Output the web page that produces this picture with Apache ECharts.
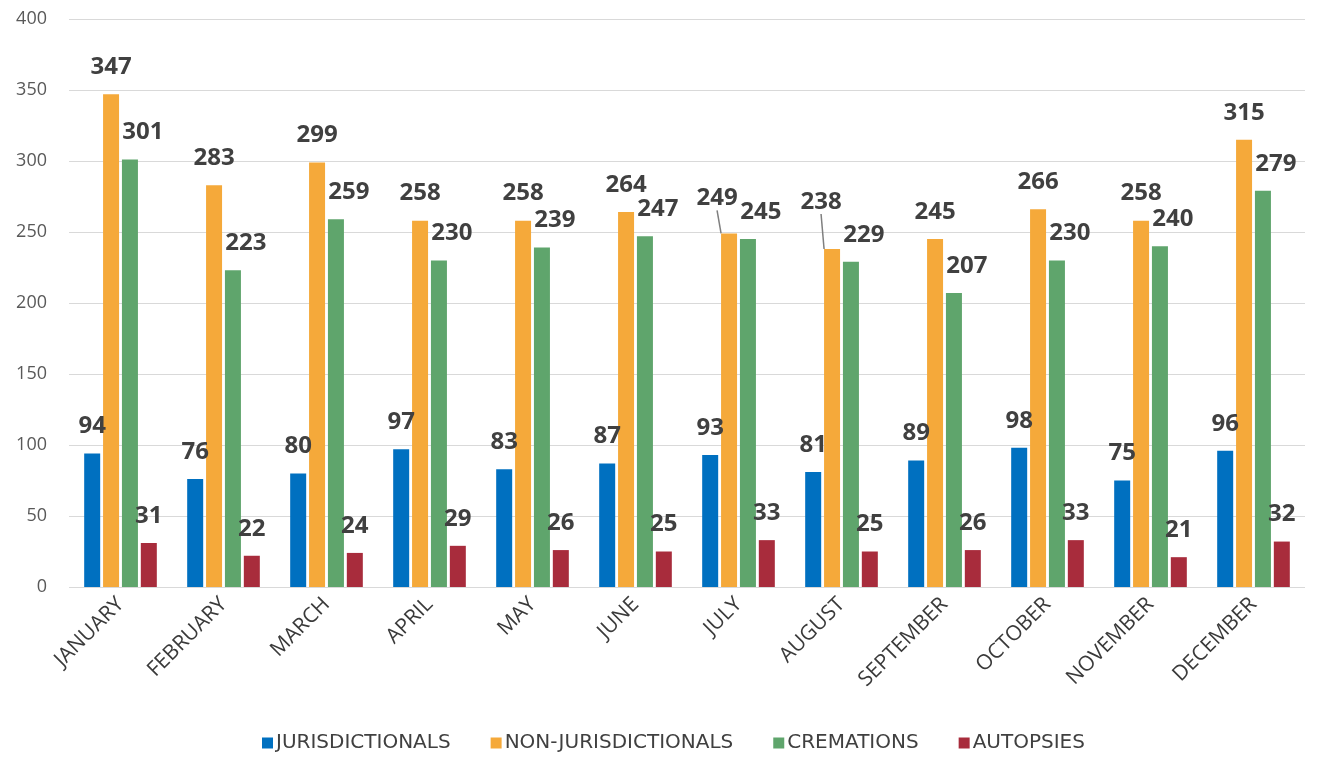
<!DOCTYPE html>
<html>
<head>
<meta charset="utf-8">
<script src="https://cdn.jsdelivr.net/npm/echarts@6/dist/echarts.min.js"></script>
<style>
  html, body { margin: 0; padding: 0; background: #fff; }
  #main { width: 1318px; height: 760px; }
</style>
</head>
<body>
<div id="main"></div>
<script>
var months = ['JANUARY', 'FEBRUARY', 'MARCH', 'APRIL', 'MAY', 'JUNE', 'JULY', 'AUGUST', 'SEPTEMBER', 'OCTOBER', 'NOVEMBER', 'DECEMBER'];
var jurisdictionals = [94, 76, 80, 97, 83, 87, 93, 81, 89, 98, 75, 96];
var nonJurisdictionals = [347, 283, 299, 258, 258, 264, 249, 238, 245, 266, 258, 315];
var cremations = [301, 223, 259, 230, 239, 247, 245, 229, 207, 230, 240, 279];
var autopsies = [31, 22, 24, 29, 26, 25, 33, 25, 26, 33, 21, 32];

var yTicks = { min: 0, max: 400, interval: 50 };

(function () {
  var chart = echarts.init(document.getElementById('main'));
  var labelFont = '"Open Sans", "DejaVu Sans", sans-serif';

  // labels moved off their bar (July, August) get a leader line
  var moved = { 6: [-12, -8], 7: [-11, -20] };

  function barSeries(name, data, color, extra) {
    var s = {
      name: name,
      type: 'bar',
      data: data,
      barWidth: 16,
      barGap: '18%',
      itemStyle: { color: color },
      label: {
        show: true,
        position: 'top',
        distance: 15,
        color: '#404040',
        fontWeight: 'bold',
        fontSize: 24,
        fontFamily: labelFont
      }
    };
    if (extra) extra(s);
    return s;
  }

  var option = {
    backgroundColor: '#fff',
    animation: false,
    grid: { left: 69, right: 13, top: 19, bottom: 173 },
    legend: {
      bottom: 2,
      left: 257,
      itemWidth: 11,
      itemHeight: 11,
      itemGap: 40,
      icon: 'rect',
      textStyle: { color: '#404040', fontSize: 20, fontFamily: '"DejaVu Sans", sans-serif', padding: [0, 0, 0, -2] },
      data: ['JURISDICTIONALS', 'NON-JURISDICTIONALS', 'CREMATIONS', 'AUTOPSIES']
    },
    xAxis: {
      type: 'category',
      data: months,
      axisLine: { show: false },
      axisTick: { show: false },
      axisLabel: {
        rotate: 45,
        interval: 0,
        color: '#3a3a3a',
        fontSize: 21,
        margin: 14,
        fontFamily: '"Open Sans", sans-serif'
      }
    },
    yAxis: {
      type: 'value',
      min: yTicks.min,
      max: yTicks.max,
      interval: yTicks.interval,
      axisLine: { show: false },
      axisTick: { show: false },
      axisLabel: { color: '#595959', fontSize: 18, margin: 22, fontFamily: labelFont },
      splitLine: { lineStyle: { color: '#d9d9d9', width: 1 } }
    },
    series: [
      barSeries('JURISDICTIONALS', jurisdictionals, '#0070C0'),
      barSeries('NON-JURISDICTIONALS', nonJurisdictionals.map(function (v, i) {
        return moved[i] ? { value: v, labelLine: { show: true } } : { value: v, labelLine: { show: false } };
      }), '#F5A93A', function (s) {
        s.labelLine = { show: false, lineStyle: { color: '#7f7f7f', width: 1.5 } };
        s.labelLayout = function (p) {
          var m = moved[p.dataIndex];
          return m ? { dx: m[0], dy: m[1] } : {};
        };
      }),
      barSeries('CREMATIONS', cremations, '#5FA56C', function (s) {
        s.label.offset = [13, 0];
      }),
      barSeries('AUTOPSIES', autopsies, '#A82C3C')
    ]
  };
  chart.setOption(option);
  window.addEventListener('resize', function () { chart.resize(); });
})();
</script>
</body>
</html>
